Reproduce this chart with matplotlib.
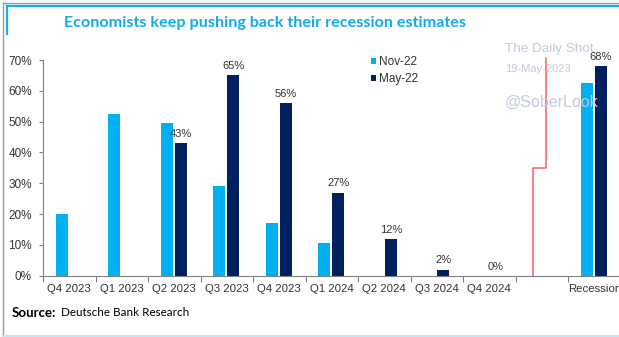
import numpy as np
import matplotlib
matplotlib.use("Agg")
import matplotlib.pyplot as plt
from matplotlib.lines import Line2D

# ---- data -------------------------------------------------------------
categories = ["Q4 2023", "Q1 2023", "Q2 2023", "Q3 2023", "Q4 2023",
              "Q1 2024", "Q2 2024", "Q3 2024", "Q4 2024", "", "Recession"]
nov22 = [20, 52.5, 49.5, 29.2, 17, 10.7, np.nan, np.nan, np.nan, np.nan, 62.5]
may22 = [np.nan, np.nan, 43, 65, 56, 27, 12, 2, 0, np.nan, 68]
series_names = ["Nov-22", "May-22"]
yticks = [0, 10, 20, 30, 40, 50, 60, 70]

# red step marker separating quarterly bars from the recession bars
step_x = [8.83, 8.83, 9.08, 9.08]
step_y = [0, 35, 35, 70.7]

# ---- style -------------------------------------------------------------
LIGHT = "#00B0F0"
DARK = "#002060"
TEXT = "#333333"
W, H = 619, 337

plt.rcParams["font.family"] = ["Liberation Sans", "DejaVu Sans"]

fig = plt.figure(figsize=(W / 100, H / 100), dpi=100)


def fx(px):
    return px / W


def fy(py):
    return 1 - py / H


# frame around the panel
fig.add_artist(Line2D([fx(3), fx(619)], [fy(3), fy(3)], color="#9a9a9a", lw=1.0))
fig.add_artist(Line2D([fx(3), fx(3)], [fy(3), fy(337)], color="#9a9a9a", lw=1.0))
fig.add_artist(Line2D([fx(7), fx(619)], [fy(6.3), fy(6.3)], color="#19AEEA", lw=1.6))
fig.add_artist(Line2D([fx(7.3), fx(7.3)], [fy(6.3), fy(34)], color="#19AEEA", lw=1.6))
fig.add_artist(Line2D([fx(3), fx(619)], [fy(336), fy(336)], color="#BDE9F8", lw=1.6))

fig.text(fx(265), fy(23), "Economists keep pushing back their recession estimates",
         ha="center", va="center", fontsize=11.6, fontweight="bold",
         color="#12ABEA", family=["Lato", "DejaVu Sans"])

fig.text(fx(12), fy(313), "Source:", ha="left", va="center", fontsize=9.5,
         fontweight="bold", color="black", family=["Lato", "DejaVu Sans"])
fig.text(fx(61), fy(313), "Deutsche Bank Research", ha="left", va="center",
         fontsize=8.4, color="black", family=["Lato", "DejaVu Sans"])

# ---- axes --------------------------------------------------------------
px_per_pct = (275.7 - 60) / 70
ymax = 71
ax_left, ax_right = 43, 620.5
ax_bottom = 275.7
ax = fig.add_axes([fx(ax_left), fy(ax_bottom), (ax_right - ax_left) / W,
                   ymax * px_per_pct / H])
ax.set_xlim(-0.5, len(categories) - 0.5)
ax.set_ylim(0, ymax)

x = np.arange(len(categories))
bw = 0.225
b1 = ax.bar(x - 0.145, nov22, width=bw, color=LIGHT, label=series_names[0])
b2 = ax.bar(x + 0.125, may22, width=bw, color=DARK, label=series_names[1])

for xi, v in zip(x, may22):
    if not np.isnan(v):
        ax.annotate(f"{v:.0f}%", (xi + 0.125, v), xytext=(0, 3),
                    textcoords="offset points", ha="center", va="bottom",
                    fontsize=8, color=TEXT)

ax.plot(step_x, step_y, color="#FF5C5C", lw=1.1, clip_on=False)

for s in ["top", "right"]:
    ax.spines[s].set_visible(False)
ax.spines["left"].set_bounds(0, 70)
ax.spines["left"].set_color("#808080")
ax.spines["bottom"].set_color("#808080")
ax.spines["left"].set_linewidth(0.8)
ax.spines["bottom"].set_linewidth(0.8)

ax.set_yticks(yticks)
ax.set_yticklabels([f"{t}%" for t in yticks])
ax.tick_params(axis="y", length=3, width=0.8, color="#808080", pad=5,
               labelsize=8.5, labelcolor=TEXT)

ax.set_xticks(np.arange(-0.5, len(categories), 1.0))
ax.set_xticklabels([])
ax.tick_params(axis="x", which="major", length=4, width=0.8, color="#808080")
ax.set_xticks(x, minor=True)
ax.set_xticklabels(categories, minor=True)
ax.tick_params(axis="x", which="minor", length=0, pad=6, labelsize=8.2,
               labelcolor=TEXT)

leg = ax.legend(handles=[b1, b2], loc="upper left",
                bbox_to_anchor=(fx(371), fy(56)), bbox_transform=fig.transFigure,
                frameon=False, fontsize=8.5, handlelength=0.45, handleheight=0.45,
                handletextpad=0.25, labelspacing=0.45, borderpad=0,
                borderaxespad=0)
for t in leg.get_texts():
    t.set_color(TEXT)

# watermark
wm = "#C4C9E0"
fig.text(fx(505), fy(49), "The Daily Shot", ha="left", va="center",
         fontsize=9.7, color=wm)
fig.text(fx(505), fy(69), "19-May-2023", ha="left", va="center",
         fontsize=8, color=wm)
fig.text(fx(505), fy(102), "@SoberLook", ha="left", va="center",
         fontsize=11.5, color=wm)

fig.savefig("out.png", dpi=100)
